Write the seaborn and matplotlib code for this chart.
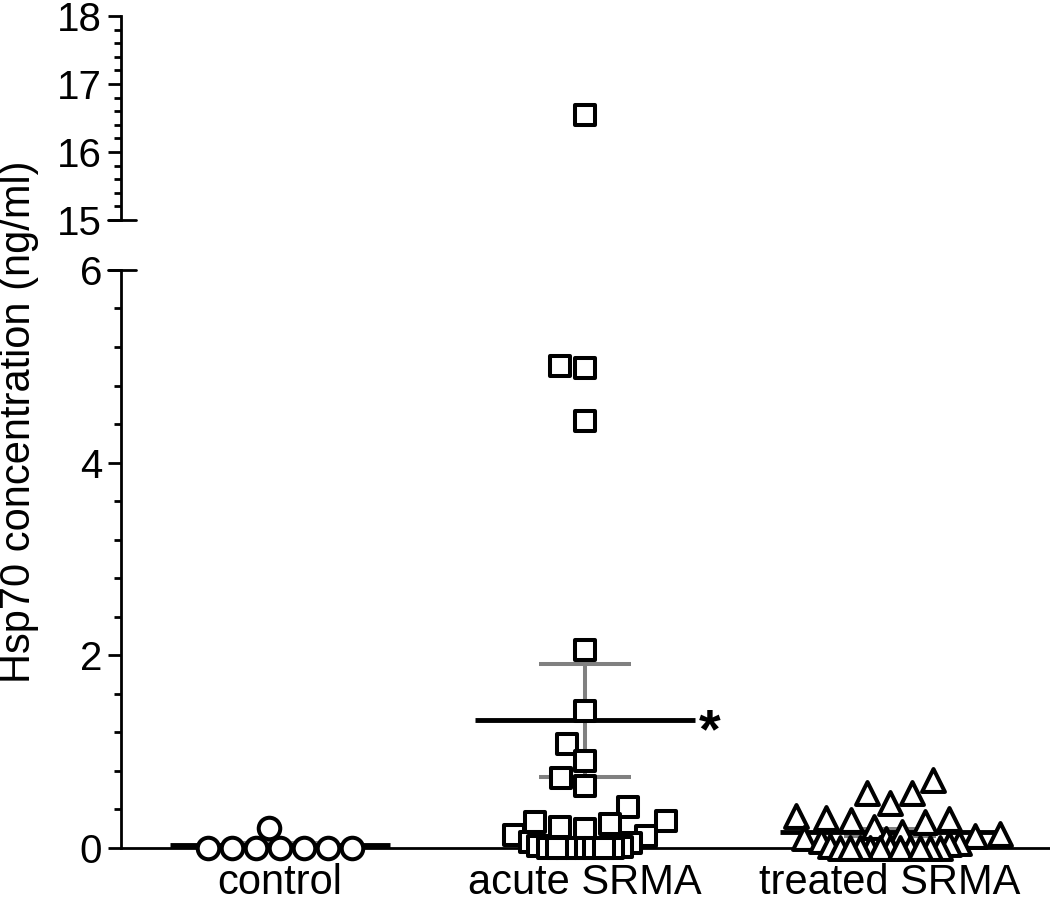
import numpy as np
import matplotlib
matplotlib.use("Agg")
import matplotlib.pyplot as plt
from matplotlib.ticker import MultipleLocator
import seaborn as sns

groups = ["control", "acute SRMA", "treated SRMA"]

control = [0, 0, 0, 0, 0, 0, 0, 0.21]
acute = [16.55, 5.00, 4.98, 4.43, 2.05, 1.42, 1.08, 0.90, 0.73, 0.64, 0.42,
         0.28, 0.27, 0.25, 0.22, 0.20, 0.13, 0.12, 0.06, 0.05, 0.02, 0.01,
         0, 0, 0, 0, 0, 0, 0, 0]
treated = [0.71, 0.57, 0.57, 0.47, 0.33, 0.31, 0.30, 0.29, 0.27,
           0.22, 0.17, 0.14, 0.12, 0.10, 0.09, 0.07, 0.05, 0.04, 0.02,
           0, 0, 0, 0, 0, 0, 0, 0, 0, 0, 0]

sns.set_style("ticks", rc={"axes.edgecolor": "black", "xtick.color": "black",
                           "ytick.color": "black", "text.color": "black",
                           "axes.labelcolor": "black"})
plt.rcParams["font.family"] = ["Liberation Sans", "DejaVu Sans"]

fig = plt.figure(figsize=(10.5, 9.11), dpi=100)
ax = fig.add_axes([0.1152, 0.0692, 0.8848, 0.6345])
ax_top = fig.add_axes([0.1152, 0.7585, 0.8848, 0.2239])

# values, marker, marker size, swarm spacing for the bottom row and for the rest
styles = [(control, "control", "o", 15.5, 13.5, 13.5),
          (acute, "acute SRMA", "s", 13.8, 3.5, 14.5),
          (treated, "treated SRMA", "^", 16.5, 4, 14)]

frozen = []
for a in (ax, ax_top):
    for vals, grp, marker, size, row_size, other_size in styles:
        n0 = len(a.collections)
        sns.swarmplot(x=[grp] * len(vals), y=vals, order=groups, marker=marker,
                      size=size, color="white", edgecolor="black",
                      linewidth=2.9, warn_thresh=1, zorder=4,
                      clip_on=(a is ax_top), ax=a)
        for c in a.collections[n0:]:
            y = c.get_offsets()[:, 1]
            if len(y):
                # pack the points tighter than the marker size, like the original
                c.set_sizes(np.where(y < 0.1, row_size, other_size) ** 2)
            frozen.append((c, size))

# mean and SEM
for i, vals in enumerate([control, acute, treated]):
    m = np.mean(vals)
    se = np.std(vals, ddof=1) / np.sqrt(len(vals))
    ax.vlines(i, m - se, m + se, color="#808080", lw=2.9, zorder=3)
    ax.hlines([m - se, m + se], i - 0.15, i + 0.15, color="#808080", lw=2.9, zorder=3)
    ax.hlines(m, i - 0.36, i + 0.36, color="black", lw=3.5, zorder=3)
    if i == 1:
        ax.text(i + 0.41, m - 0.28, "*", fontsize=40, fontweight="bold",
                ha="center", va="baseline")

for a in (ax, ax_top):
    a.set_xlim(-0.521, 2.525)
    a.set_xlabel("")
    a.set_ylabel("")
    a.spines["top"].set_visible(False)
    a.spines["right"].set_visible(False)
    for s in a.spines.values():
        s.set_linewidth(2)
    a.tick_params(axis="y", which="major", length=9.5, width=2, labelsize=29, pad=4)
    a.tick_params(axis="y", which="minor", length=5, width=2)

ax.set_ylim(0, 6)
ax.yaxis.set_major_locator(MultipleLocator(2))
ax.yaxis.set_minor_locator(MultipleLocator(0.4))
ax.tick_params(axis="x", length=0, labelsize=30, pad=11)

ax_top.set_ylim(15, 18)
ax_top.yaxis.set_major_locator(MultipleLocator(1))
ax_top.yaxis.set_minor_locator(MultipleLocator(0.2))
ax_top.spines["bottom"].set_visible(False)
ax_top.set_xticks([])

# break marks
for a, yv in ((ax, 6), (ax_top, 15)):
    a.plot([-0.014, 0.016], [yv, yv], transform=a.get_yaxis_transform(),
           color="black", lw=2, clip_on=False)

fig.text(0.018, 0.537, "Hsp70 concentration (ng/ml)", rotation=90,
         ha="center", va="center", fontsize=30)

# lay out the swarms, then keep positions and show all markers at full size
fig.canvas.draw()
for coll, size in frozen:
    coll.__dict__.pop("draw", None)
    coll.set_sizes([size ** 2])

fig.savefig("out.png", dpi=100)
